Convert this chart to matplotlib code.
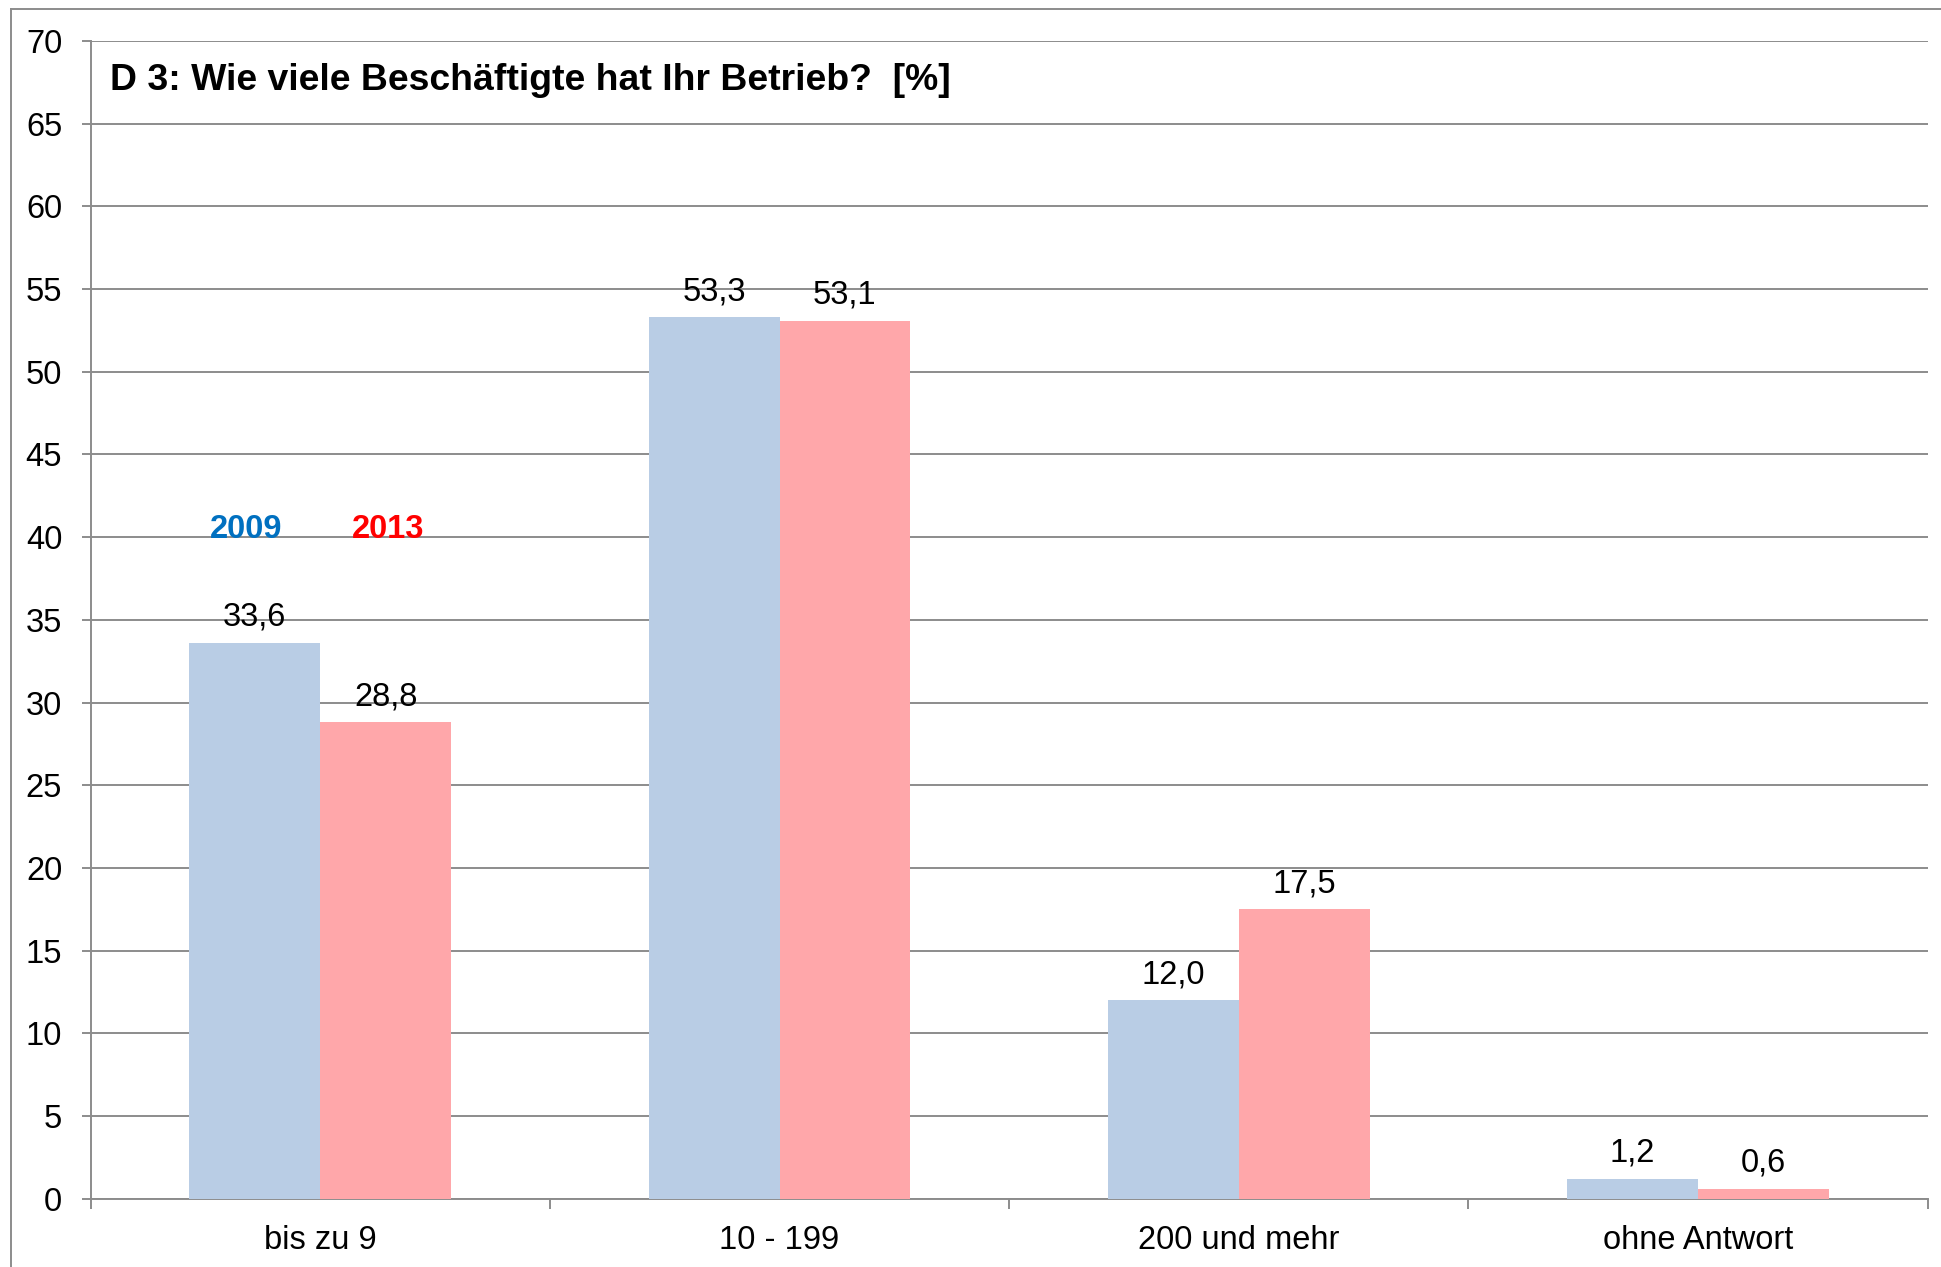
import matplotlib
matplotlib.use("Agg")
import matplotlib.pyplot as plt
from matplotlib.lines import Line2D
import numpy as np

categories = ["bis zu 9", "10 - 199", "200 und mehr", "ohne Antwort"]
values_2009 = [33.6, 53.3, 12.0, 1.2]
values_2013 = [28.8, 53.1, 17.5, 0.6]
years = ["2009", "2013"]
yticks = list(range(0, 75, 5))

BLUE = "#B9CDE5"
PINK = "#FFA7AA"
GRID = "#8C8C8C"
FS = 23.5

plt.rcParams["font.family"] = ["Liberation Sans", "DejaVu Sans"]

fig = plt.figure(figsize=(19.41, 12.67), dpi=100)
ax = fig.add_axes([90.7 / 1941, 1 - 1198.7 / 1267, (1927.5 - 90.7) / 1941, (1198.7 - 41) / 1267])

x = np.arange(len(categories))
w = 0.285
b1 = ax.bar(x - w / 2, values_2009, w, color=BLUE, zorder=3)
b2 = ax.bar(x + w / 2, values_2013, w, color=PINK, zorder=3)

for bars, vals in ((b1, values_2009), (b2, values_2013)):
    for rect, v in zip(bars, vals):
        ax.annotate(f"{v:.1f}".replace(".", ","),
                    (rect.get_x() + rect.get_width() / 2, v),
                    xytext=(0, 12.3), textcoords="offset points",
                    ha="center", va="baseline", fontsize=FS, zorder=4)

# year labels above the first group
ax.text(-w / 2 - 0.02, 40.45, years[0], color="#0070C0", fontsize=FS,
        fontweight="bold", ha="center", va="center")
ax.text(w / 2 + 0.005, 40.45, years[1], color="#FF0000", fontsize=FS,
        fontweight="bold", ha="center", va="center")

ax.set_xlim(-0.5, len(categories) - 0.5)
ax.set_ylim(0, 70)
ax.set_yticks(yticks)
ax.set_yticklabels([str(t) for t in yticks])
ax.yaxis.grid(True, color=GRID, lw=1.4, zorder=0)
ax.set_axisbelow(True)

ax.set_xticks(x)
ax.set_xticklabels(categories)
ax.set_xticks(np.arange(-0.5, len(categories)), minor=True)
ax.tick_params(axis="x", which="major", length=0, pad=19, labelsize=FS)
ax.tick_params(axis="x", which="minor", length=7, width=1.4, color=GRID, direction="out")
ax.tick_params(axis="y", length=6.5, width=1.4, color=GRID, pad=14, labelsize=FS)

for side in ("top", "right"):
    ax.spines[side].set_visible(False)
for side in ("left", "bottom"):
    ax.spines[side].set_color(GRID)
    ax.spines[side].set_linewidth(1.4)

ax.text(0.0105, 0.958, "D 3: Wie viele Beschäftigte hat Ihr Betrieb?  [%]",
        transform=ax.transAxes, fontsize=26.9, fontweight="bold",
        ha="left", va="baseline")

# outer chart border (cut off at right and bottom)
bx = 11 / 1941
by = 1 - 9.3 / 1267
fig.add_artist(Line2D([bx, bx], [0, by], color=GRID, lw=1.4, transform=fig.transFigure))
fig.add_artist(Line2D([bx, 1], [by, by], color=GRID, lw=1.4, transform=fig.transFigure))

fig.savefig("out.png", dpi=100)
